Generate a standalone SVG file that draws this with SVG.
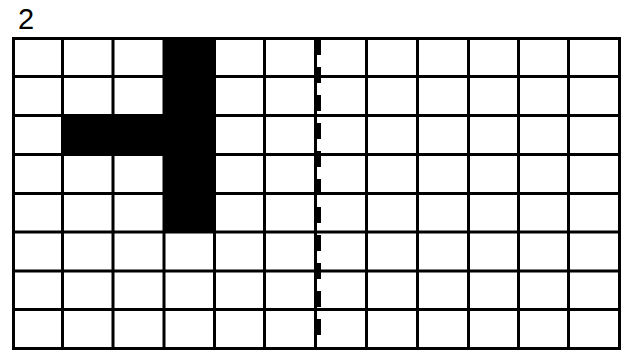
<svg xmlns="http://www.w3.org/2000/svg" width="624" height="352" viewBox="0 0 624 352">
<style>
.g{stroke:#000;stroke-width:3;fill:none}
.f{fill:#000;stroke:none}
.d{stroke:#000;stroke-width:5;stroke-dasharray:16 12;fill:none}
.t{font-family:"Liberation Sans",Arial,sans-serif;font-size:29px;fill:#000}
</style>
<rect width="624" height="352" fill="#fff"/>
<text class="t" x="18" y="29">2</text>
<g id="shape">
<rect class="f" x="164" y="38.5" width="50.5" height="193.5"/>
<rect class="f" x="62.5" y="115.5" width="101.5" height="39"/>
</g>
<g id="grid">
<path class="g" d="M62.5 38.5V348.5M113 38.5V348.5M164 38.5V348.5M214.5 38.5V348.5M264.5 38.5V348.5M315.5 38.5V348.5M366.5 38.5V348.5M417.5 38.5V348.5M468.5 38.5V348.5M518.5 38.5V348.5M568.5 38.5V348.5"/>
<path class="g" d="M13.5 76.5H619.5M13.5 115.5H619.5M13.5 154.5H619.5M13.5 193.5H619.5M13.5 232H619.5M13.5 271H619.5M13.5 309.5H619.5"/>
<rect class="g" x="13.5" y="38.5" width="606" height="310"/>
</g>
<g id="axis">
<line class="d" x1="318.5" y1="39" x2="318.5" y2="348"/>
</g>
</svg>
